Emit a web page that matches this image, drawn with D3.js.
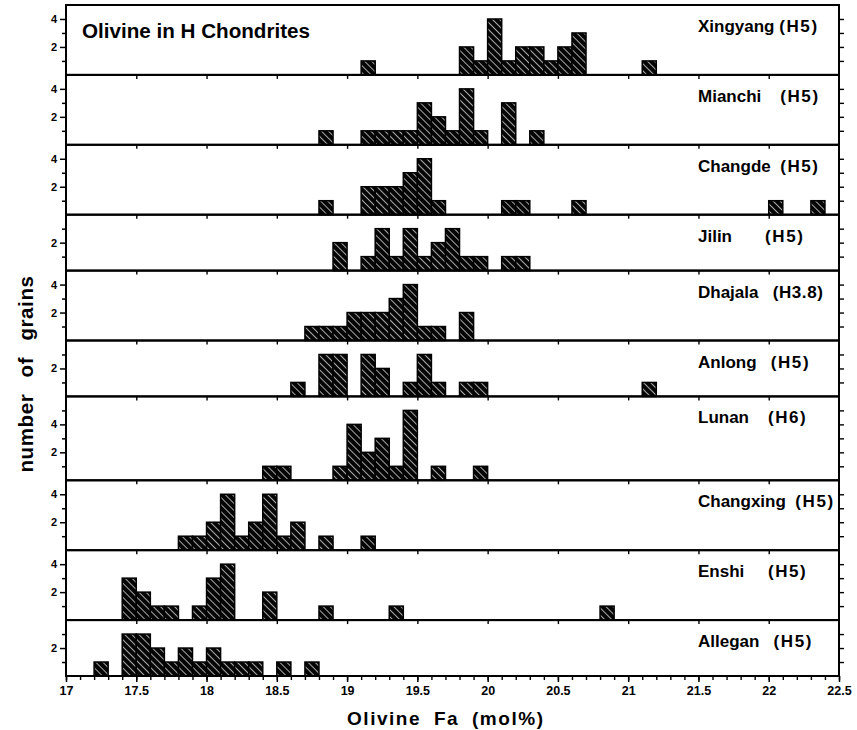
<!DOCTYPE html>
<html><head><meta charset="utf-8">
<script src="https://cdn.jsdelivr.net/npm/d3@7"></script>
<style>body{margin:0;background:#fff} svg{display:block}</style>
</head><body>
<svg id="chart" width="857" height="730"></svg>
<script>
// ---- data ----
const meteorites = ["Xingyang", "Mianchi", "Changde", "Jilin", "Dhajala", "Anlong", "Lunan", "Changxing", "Enshi", "Allegan"];
const petrologicTypes = ["H5", "H5", "H5", "H5", "H3.8", "H5", "H6", "H5", "H5", "H5"];
const labelGaps = [" ", "    ", "  ", "       ", "   ", "   ", "    ", "  ", "     ", "   "];
const panelMaxCount = [5, 5, 5, 4, 5, 4, 6, 5, 5, 4];
const binWidth = 0.1;

const xingyangFa = [19.1, 19.8, 19.9, 20.0, 20.1, 20.2, 20.3, 20.4, 20.5, 20.6, 21.1];
const xingyangN  = [1, 2, 1, 4, 1, 2, 2, 1, 2, 3, 1];
const mianchiFa  = [18.8, 19.1, 19.2, 19.3, 19.4, 19.5, 19.6, 19.7, 19.8, 19.9, 20.1, 20.3];
const mianchiN   = [1, 1, 1, 1, 1, 3, 2, 1, 4, 1, 3, 1];
const changdeFa  = [18.8, 19.1, 19.2, 19.3, 19.4, 19.5, 19.6, 20.1, 20.2, 20.6, 22.0, 22.3];
const changdeN   = [1, 2, 2, 2, 3, 4, 1, 1, 1, 1, 1, 1];
const jilinFa    = [18.9, 19.1, 19.2, 19.3, 19.4, 19.5, 19.6, 19.7, 19.8, 19.9, 20.1, 20.2];
const jilinN     = [2, 1, 3, 1, 3, 1, 2, 3, 1, 1, 1, 1];
const dhajalaFa  = [18.7, 18.8, 18.9, 19.0, 19.1, 19.2, 19.3, 19.4, 19.5, 19.6, 19.8];
const dhajalaN   = [1, 1, 1, 2, 2, 2, 3, 4, 1, 1, 2];
const anlongFa   = [18.6, 18.8, 18.9, 19.1, 19.2, 19.4, 19.5, 19.6, 19.8, 19.9, 21.1];
const anlongN    = [1, 3, 3, 3, 2, 1, 3, 1, 1, 1, 1];
const lunanFa    = [18.4, 18.5, 18.9, 19.0, 19.1, 19.2, 19.3, 19.4, 19.6, 19.9];
const lunanN     = [1, 1, 1, 4, 2, 3, 1, 5, 1, 1];
const changxingFa = [17.8, 17.9, 18.0, 18.1, 18.2, 18.3, 18.4, 18.5, 18.6, 18.8, 19.1];
const changxingN  = [1, 1, 2, 4, 1, 2, 4, 1, 2, 1, 1];
const enshiFa    = [17.4, 17.5, 17.6, 17.7, 17.9, 18.0, 18.1, 18.4, 18.8, 19.3, 20.8];
const enshiN     = [3, 2, 1, 1, 1, 3, 4, 2, 1, 1, 1];
const alleganFa  = [17.2, 17.4, 17.5, 17.6, 17.7, 17.8, 17.9, 18.0, 18.1, 18.2, 18.3, 18.5, 18.7];
const alleganN   = [1, 3, 3, 2, 1, 2, 1, 2, 1, 1, 1, 1, 1];

const faBins = [xingyangFa, mianchiFa, changdeFa, jilinFa, dhajalaFa, anlongFa, lunanFa, changxingFa, enshiFa, alleganFa];
const grainCounts = [xingyangN, mianchiN, changdeN, jilinN, dhajalaN, anlongN, lunanN, changxingN, enshiN, alleganN];

const xTickValues = [17, 17.5, 18, 18.5, 19, 19.5, 20, 20.5, 21, 21.5, 22, 22.5];
const xTickLabels = ["17", "17.5", "18", "18.5", "19", "19.5", "20", "20.5", "21", "21.5", "22", "22.5"];
const yTickLabels = [2, 4];

const chartTitle = "Olivine in H Chondrites";
const xTitle = "Olivine Fa (mol%)";
const yTitle = "number of grains";

// ---- layout ----
const plotLeft = 66, plotRight = 839, plotTop = 5, plotBottom = 676;
const FONT = "'Liberation Sans', Arial, sans-serif";

const svg = d3.select("#chart");
const defs = svg.append("defs");
const pat = defs.append("pattern")
  .attr("id", "hatch").attr("patternUnits", "userSpaceOnUse")
  .attr("width", 5).attr("height", 5)
  .attr("patternTransform", "rotate(45)");
pat.append("rect").attr("width", 5).attr("height", 5).attr("fill", "#050505");
pat.append("line").attr("x1", 0).attr("y1", 0.5).attr("x2", 5).attr("y2", 0.5)
  .attr("stroke", "#fff").attr("stroke-width", 0.65);

const x = d3.scaleLinear().domain([17, 22.5]).range([plotLeft, plotRight]);
const totalUnits = d3.sum(panelMaxCount);
const unitScale = d3.scaleLinear().domain([0, totalUnits]).range([plotTop, plotBottom]);
const cum = Array.from(d3.cumsum([0].concat(panelMaxCount)));

meteorites.forEach((name, i) => {
  const pTop = unitScale(cum[i]);
  const pBot = unitScale(cum[i] + panelMaxCount[i]);
  const y = d3.scaleLinear().domain([0, panelMaxCount[i]]).range([pBot, pTop]);
  const g = svg.append("g");

  const rows = faBins[i].map((b, k) => ({ b, n: grainCounts[i][k] }));
  g.selectAll("rect.bar").data(rows).join("rect")
    .attr("class", "bar")
    .attr("x", d => x(d.b))
    .attr("width", d => x(d.b + binWidth) - x(d.b))
    .attr("y", d => y(d.n))
    .attr("height", d => pBot - y(d.n))
    .attr("fill", "url(#hatch)")
    .attr("stroke", "#000").attr("stroke-width", 1.5);

  // left ticks
  const yt = d3.range(1, panelMaxCount[i]);
  const la = g.append("g").attr("transform", `translate(${plotLeft},0)`)
    .call(d3.axisLeft(y).tickValues(yt).tickSize(4).tickPadding(3)
      .tickFormat(d => yTickLabels.includes(d) ? d : ""));
  la.select(".domain").remove();
  la.selectAll(".tick line").attr("stroke-width", 1.5)
    .attr("x2", d => yTickLabels.includes(d) ? -6 : -4);
  la.selectAll(".tick text").attr("x", -9)
    .style("font-family", FONT).style("font-size", "11px").style("font-weight", "bold");

  // right ticks
  const ra = g.append("g").attr("transform", `translate(${plotRight},0)`)
    .call(d3.axisRight(y).tickValues(yt).tickSize(5).tickFormat(""));
  ra.select(".domain").remove();
  ra.selectAll(".tick line").attr("stroke-width", 1.4);

  // top boundary ticks (pointing into panel)
  if (i > 0) {
    const ta = g.append("g").attr("transform", `translate(0,${pTop})`)
      .call(d3.axisBottom(x).tickValues(xTickValues.slice(1, -1)).tickSize(4).tickFormat(""));
    ta.select(".domain").remove();
    ta.selectAll(".tick line").attr("stroke-width", 1.4);
  }

  // frame
  g.append("rect").attr("x", plotLeft).attr("y", pTop)
    .attr("width", plotRight - plotLeft).attr("height", pBot - pTop)
    .attr("fill", "none").attr("stroke", "#000").attr("stroke-width", 2);

  const t = g.append("text")
    .attr("x", 698).attr("y", pTop + 27)
    .attr("xml:space", "preserve")
    .style("white-space", "pre")
    .style("font-family", FONT).style("font-size", "17px").style("font-weight", "bold");
  t.append("tspan").text(name + labelGaps[i]);
  t.append("tspan").style("letter-spacing", petrologicTypes[i].length > 2 ? "0.6px" : "1.6px")
    .text(`(${petrologicTypes[i]})`);
});

// bottom axis
const minorTicks = d3.range(0, 56).map(k => 17 + k * binWidth);
const bax = svg.append("g").attr("transform", `translate(0,${plotBottom})`)
  .call(d3.axisBottom(x).tickValues(minorTicks).tickSize(4).tickFormat(""));
bax.select(".domain").remove();
bax.selectAll(".tick line").attr("stroke-width", 1.4);
const bax2 = svg.append("g").attr("transform", `translate(0,${plotBottom})`)
  .call(d3.axisBottom(x).tickValues(xTickValues).tickSize(6).tickPadding(4)
    .tickFormat((d, k) => xTickLabels[k]));
bax2.select(".domain").remove();
bax2.selectAll(".tick line").attr("stroke-width", 1.5);
bax2.selectAll(".tick text").style("font-family", FONT).style("font-size", "12.5px").style("font-weight", "bold");

// titles
svg.append("text").attr("x", 82).attr("y", 38)
  .attr("textLength", 228).attr("lengthAdjust", "spacingAndGlyphs")
  .style("font-family", FONT).style("font-size", "20px").style("font-weight", "bold")
  .text(chartTitle);

svg.append("text").attr("x", 347).attr("y", 725)
  .attr("textLength", 196).attr("lengthAdjust", "spacing")
  .style("font-family", FONT).style("font-size", "19px").style("font-weight", "bold")
  .style("word-spacing", "6px")
  .text(xTitle);

svg.append("text")
  .attr("transform", "translate(33,374) rotate(-90)")
  .attr("text-anchor", "middle")
  .style("font-family", FONT).style("font-size", "20.5px").style("font-weight", "bold")
  .style("word-spacing", "10px").style("letter-spacing", "0.6px")
  .text(yTitle);
</script>
</body></html>
